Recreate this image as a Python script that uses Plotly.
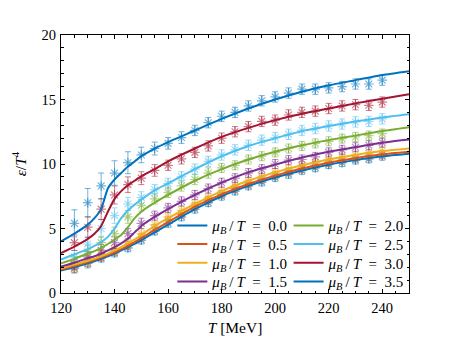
import plotly.graph_objects as go

# temperature grid of the model curves (MeV)
t_line = [120, 125, 130, 132.5, 135, 137.5, 140, 142.5, 145, 147.5, 150, 155, 160,
          170, 180, 190, 200, 210, 220, 230, 240, 250]

line_00 = [1.75, 2.0, 2.3, 2.45, 2.65, 2.85, 3.05, 3.3, 3.55, 3.8, 4.1, 4.7, 5.3,
           6.5, 7.5, 8.3, 8.95, 9.5, 9.95, 10.3, 10.6, 10.8]
line_05 = [1.82, 2.1, 2.4, 2.55, 2.75, 2.95, 3.15, 3.4, 3.65, 3.95, 4.25, 4.9, 5.5,
           6.7, 7.65, 8.45, 9.1, 9.65, 10.1, 10.45, 10.75, 10.95]
line_10 = [1.9, 2.2, 2.5, 2.65, 2.85, 3.05, 3.3, 3.55, 3.85, 4.15, 4.5, 5.2, 5.8,
           6.9, 7.9, 8.7, 9.35, 9.9, 10.35, 10.7, 11.0, 11.2]
line_15 = [2.05, 2.35, 2.7, 2.85, 3.05, 3.3, 3.55, 3.85, 4.2, 4.7, 5.2, 5.9, 6.5,
           7.6, 8.55, 9.35, 9.95, 10.5, 10.95, 11.3, 11.65, 11.9]
line_20 = [2.3, 2.65, 3.05, 3.25, 3.5, 3.8, 4.15, 4.5, 5.1, 5.8, 6.3, 7.0, 7.6,
           8.7, 9.6, 10.35, 10.95, 11.45, 11.85, 12.2, 12.55, 12.85]
line_25 = [2.6, 3.0, 3.4, 3.65, 3.95, 4.35, 5.0, 5.8, 6.4, 6.85, 7.25, 7.95, 8.5,
           9.6, 10.6, 11.4, 12.0, 12.55, 12.95, 13.3, 13.6, 13.85]
line_30 = [3.1, 3.6, 4.2, 4.6, 5.2, 6.3, 7.3, 7.9, 8.35, 8.7, 9.05, 9.6, 10.2,
           11.2, 12.1, 12.8, 13.4, 13.9, 14.3, 14.7, 15.05, 15.4]
line_35 = [4.0, 4.6, 5.3, 5.8, 6.5, 8.1, 8.8, 9.3, 9.8, 10.2, 10.6, 11.2, 11.7,
           12.6, 13.5, 14.3, 15.0, 15.6, 16.1, 16.5, 16.9, 17.2]

# lattice points
t_pts = [125, 130, 135, 140, 145, 150, 155, 160, 165, 170, 175, 180,
         185, 190, 195, 200, 205, 210, 215, 220, 225, 230, 235, 240]

pts_00 = [1.9, 2.3, 2.7, 3.1, 3.5, 4.1, 4.8, 5.4, 5.9, 6.5, 7.0, 7.5,
          7.9, 8.3, 8.6, 8.95, 9.2, 9.5, 9.7, 9.95, 10.1, 10.3, 10.4, 10.6]
pts_05 = [2.0, 2.4, 2.8, 3.2, 3.7, 4.3, 5.0, 5.6, 6.1, 6.7, 7.2, 7.65,
          8.1, 8.45, 8.8, 9.1, 9.4, 9.65, 9.9, 10.1, 10.3, 10.45, 10.6, 10.75]
pts_10 = [2.1, 2.5, 3.0, 3.4, 3.9, 4.6, 5.3, 5.9, 6.4, 6.9, 7.4, 7.9,
          8.3, 8.7, 9.0, 9.35, 9.6, 9.9, 10.1, 10.3, 10.5, 10.7, 10.8, 11.0]
pts_15 = [2.2, 2.8, 3.3, 3.9, 4.6, 5.4, 6.0, 6.6, 7.1, 7.6, 8.1, 8.55,
          8.9, 9.3, 9.6, 10.0, 10.3, 10.35, 10.55, 10.9, 11.1, 11.3, 11.45, 11.66]
pts_20 = [2.4, 3.2, 3.9, 4.6, 5.9, 6.8, 7.3, 7.8, 8.3, 8.8, 9.3, 9.7,
          9.9, 10.35, 10.6, 10.9, 11.2, 11.4, 11.6, 11.76, 11.97, 12.1, 12.2, 12.36]
pts_25 = [2.8, 3.8, 5.0, 6.0, 6.9, 7.4, 8.0, 8.5, 9.0, 9.6, 10.2, 10.7,
          11.1, 11.45, 11.85, 12.05, 12.3, 12.6, 12.75, 12.95, 13.1, 13.26, 13.3, 13.5]
pts_30 = [3.9, 5.1, 6.5, 7.6, 8.4, 8.9, 9.5, 9.9, 10.4, 10.9, 11.4, 12.0,
          12.5, 12.9, 13.3, 13.4, 13.8, 14.0, 14.1, 14.3, 14.5, 14.6, 14.55, 14.8]
pts_35 = [5.4, 7.0, 8.3, 9.3, 10.1, 10.7, 11.2, 11.6, 12.05, 12.6, 13.2, 13.7,
          14.0, 14.5, 14.9, 15.2, 15.5, 15.8, 15.8, 15.9, 16.0, 16.2, 16.2, 16.5]

err_00 = [0.35, 0.35, 0.3, 0.3, 0.3, 0.3, 0.3, 0.3, 0.3, 0.3, 0.3, 0.3,
          0.3, 0.3, 0.3, 0.3, 0.3, 0.3, 0.3, 0.3, 0.3, 0.3, 0.3, 0.3]
err_05 = [0.4, 0.35, 0.3, 0.3, 0.3, 0.3, 0.3, 0.3, 0.3, 0.3, 0.3, 0.3,
          0.3, 0.3, 0.3, 0.3, 0.3, 0.3, 0.3, 0.3, 0.3, 0.3, 0.3, 0.3]
err_10 = [0.4, 0.4, 0.35, 0.35, 0.35, 0.35, 0.3, 0.3, 0.3, 0.3, 0.3, 0.3,
          0.3, 0.3, 0.3, 0.3, 0.3, 0.3, 0.3, 0.3, 0.3, 0.3, 0.3, 0.3]
err_15 = [0.4, 0.4, 0.45, 0.45, 0.4, 0.4, 0.35, 0.35, 0.35, 0.35, 0.35, 0.35,
          0.35, 0.35, 0.35, 0.35, 0.35, 0.35, 0.35, 0.35, 0.35, 0.35, 0.35, 0.35]
err_20 = [0.4, 0.5, 0.5, 0.5, 0.5, 0.45, 0.4, 0.4, 0.4, 0.4, 0.4, 0.35,
          0.35, 0.35, 0.35, 0.35, 0.35, 0.35, 0.35, 0.35, 0.35, 0.35, 0.35, 0.35]
err_25 = [0.5, 0.6, 0.7, 0.6, 0.5, 0.45, 0.4, 0.4, 0.4, 0.4, 0.4, 0.4,
          0.4, 0.4, 0.4, 0.4, 0.4, 0.4, 0.4, 0.4, 0.4, 0.4, 0.4, 0.4]
err_30 = [0.6, 0.8, 0.8, 0.7, 0.6, 0.5, 0.45, 0.4, 0.4, 0.4, 0.4, 0.4,
          0.4, 0.4, 0.4, 0.4, 0.4, 0.4, 0.4, 0.4, 0.4, 0.4, 0.4, 0.4]
err_35 = [1.05, 1.1, 1.0, 0.95, 0.85, 0.6, 0.5, 0.45, 0.45, 0.4, 0.4, 0.4,
          0.4, 0.4, 0.4, 0.4, 0.4, 0.4, 0.4, 0.4, 0.4, 0.4, 0.4, 0.4]

mu_labels = ["0.0", "0.5", "1.0", "1.5", "2.0", "2.5", "3.0", "3.5"]
lines = [line_00, line_05, line_10, line_15, line_20, line_25, line_30, line_35]
points = [pts_00, pts_05, pts_10, pts_15, pts_20, pts_25, pts_30, pts_35]
errors = [err_00, err_05, err_10, err_15, err_20, err_25, err_30, err_35]
colors = ["0,114,189", "217,83,25", "237,177,32", "126,47,142",
          "119,172,48", "77,190,238", "162,20,47", "0,114,189"]

FONT = "Liberation Serif"

fig = go.Figure()

for pts, err, col in zip(points, errors, colors):
    faded = f"rgba({col},0.55)"
    fig.add_trace(
        go.Scatter(
            x=t_pts,
            y=pts,
            mode="markers",
            marker=dict(symbol="asterisk-open", size=8, color=faded,
                        line=dict(color=faded, width=1.2)),
            error_y=dict(type="data", array=err, thickness=1, width=3, color=faded),
            showlegend=False,
            hoverinfo="skip",
        )
    )

# one small legend per entry so the two columns get the tight row spacing
legend_x = [0.32, 0.32, 0.32, 0.32, 0.654, 0.654, 0.654, 0.654]
legend_y = [0.261, 0.189, 0.116, 0.044, 0.261, 0.189, 0.116, 0.044]
legends = {}

for i, (lab, ys, col) in enumerate(zip(mu_labels, lines, colors)):
    key = "legend" if i == 0 else f"legend{i + 1}"
    fig.add_trace(
        go.Scatter(
            x=t_line,
            y=ys,
            mode="lines",
            line=dict(color=f"rgb({col})", width=2, shape="spline", smoothing=0.6),
            name=f"<i>μ</i><sub><i>B</i></sub>\u2009/\u2009<i>T</i>\u00a0 = \u00a0{lab}",
            legend=key,
        )
    )
    legends[key] = dict(
        x=legend_x[i], y=legend_y[i], xanchor="left", yanchor="middle",
        bgcolor="rgba(0,0,0,0)", borderwidth=0,
        font=dict(family=FONT, size=15, color="black"),
    )

axis_common = dict(
    showline=True,
    linecolor="black",
    linewidth=1,
    mirror="allticks",
    ticks="inside",
    ticklen=4,
    tickcolor="black",
    showgrid=False,
    zeroline=False,
    tickfont=dict(family=FONT, size=14.5, color="black"),
)

# the page body adds an 8 px offset, so the figure is 8 px smaller
fig.update_layout(
    width=441,
    height=337,
    paper_bgcolor="white",
    plot_bgcolor="white",
    margin=dict(l=50, r=40, t=27, b=52),
    font=dict(family=FONT, color="black"),
    xaxis=dict(
        range=[120, 250],
        dtick=20,
        tick0=120,
        ticklabelstandoff=2,
        minor=dict(dtick=5, ticklen=2.5, ticks="inside", tickcolor="black"),
        title=dict(text="<i>T</i> [MeV]", font=dict(family=FONT, size=15.5), standoff=6),
        **axis_common,
    ),
    yaxis=dict(
        range=[0, 20],
        dtick=5,
        ticklabelstandoff=1,
        minor=dict(dtick=1, ticklen=2.5, ticks="inside", tickcolor="black"),
        title=dict(text="<i>ε</i>/<i>T</i><sup>4</sup>", font=dict(family=FONT, size=15.5), standoff=11),
        **axis_common,
    ),
    **legends,
)

fig.write_html("out.html")
